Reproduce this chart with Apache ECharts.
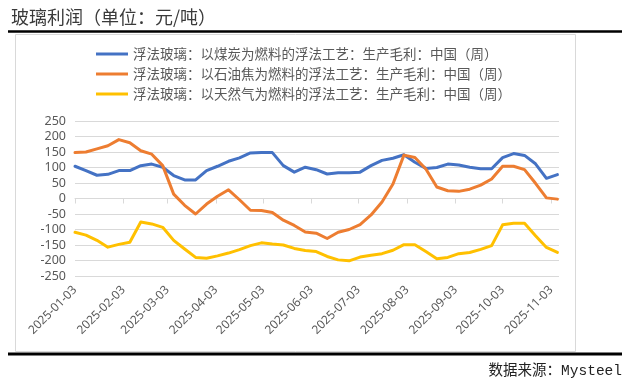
<!DOCTYPE html>
<html>
<head>
<meta charset="utf-8">
<script src="https://cdn.jsdelivr.net/npm/echarts@6/dist/echarts.min.js"></script>
<style>
html,body{margin:0;padding:0;background:#fff;}
#chart{width:630px;height:389px;}
</style>
</head>
<body>
<div id="chart"></div>
<script>
const dates = ['2025-01-03','2025-01-10','2025-01-17','2025-01-24','2025-01-31','2025-02-07','2025-02-14','2025-02-21','2025-02-28','2025-03-07','2025-03-14','2025-03-21','2025-03-28','2025-04-04','2025-04-11','2025-04-18','2025-04-25','2025-05-02','2025-05-09','2025-05-16','2025-05-23','2025-05-30','2025-06-06','2025-06-13','2025-06-20','2025-06-27','2025-07-04','2025-07-11','2025-07-18','2025-07-25','2025-08-01','2025-08-08','2025-08-15','2025-08-22','2025-08-29','2025-09-05','2025-09-12','2025-09-19','2025-09-26','2025-10-03','2025-10-10','2025-10-17','2025-10-24','2025-10-31','2025-11-07'];

const coal = [104,90,75,78,90,90,106,111,101,74,60,60,90,104,120,131,147,148,148,106,85,101,93,79,83,83,85,106,123,130,141,117,97,100,111,108,101,96,96,132,145,139,112,65,77];

const petcoke = [148,150,160,170,190,180,154,143,106,14,-22,-50,-18,7,28,-4,-38,-39,-45,-70,-87,-108,-112,-129,-109,-100,-84,-53,-11,47,140,132,95,37,25,23,30,43,63,104,104,93,49,2,-2];

const gas = [-109,-118,-135,-157,-148,-141,-76,-82,-93,-135,-163,-190,-193,-185,-176,-165,-152,-143,-147,-150,-161,-168,-171,-187,-198,-201,-189,-183,-178,-167,-149,-149,-171,-194,-190,-178,-174,-164,-152,-85,-80,-80,-120,-158,-174];

const seriesNames = ['浮法玻璃：以煤炭为燃料的浮法工艺：生产毛利：中国（周）','浮法玻璃：以石油焦为燃料的浮法工艺：生产毛利：中国（周）','浮法玻璃：以天然气为燃料的浮法工艺：生产毛利：中国（周）'];

const tickDates = ['2025-01-03','2025-02-03','2025-03-03','2025-04-03','2025-05-03','2025-06-03','2025-07-03','2025-08-03','2025-09-03','2025-10-03','2025-11-03'];

const axisStart = '2025-01-03';
const axisEnd = '2025-11-08';

const titleText = '玻璃利润（单位：元/吨）';
const sourceText = '数据来源：Mysteel';
const colors = ['#4472C4','#ED7D31','#FFC000'];

function ts(s){ const p = s.split('-'); return Date.UTC(+p[0], +p[1]-1, +p[2]); }
function dayIdx(s){ return Math.round((ts(s) - ts(axisStart)) / 86400000); }
function pairs(vals){ return dates.map((d,i)=>[dayIdx(d), vals[i]]); }
const tickPos = tickDates.map(dayIdx);

const chart = echarts.init(document.getElementById('chart'), null, {renderer:'canvas'});
const seriesData = [coal, petcoke, gas];
chart.setOption({
  backgroundColor:'#fff',
  animation:false,
  color: colors,
  title:{
    text: titleText, left: 6, top: 3,
    textStyle:{fontSize:18, fontWeight:'normal', color:'#3a3a3a', fontFamily:'"Noto Sans CJK SC", sans-serif'}
  },
  graphic:[
    {type:'rect', shape:{x:15.5, y:34.5, width:560, height:317}, style:{fill:'#fff', stroke:'#d9d9d9', lineWidth:1}, z:-10},
    {type:'line', shape:{x1:8, y1:31.5, x2:622, y2:31.5}, style:{stroke:'#000', lineWidth:2.5}},
    {type:'line', shape:{x1:8, y1:354, x2:622, y2:354}, style:{stroke:'#000', lineWidth:3}},
    {type:'text', right:8, top:364, style:{text: sourceText, fill:'#222', font:'14.5px "Liberation Mono", "Noto Sans CJK SC", monospace'}}
  ],
  legend:{
    orient:'vertical', left:96, top:47, itemGap:6,
    itemWidth:32, itemHeight:3, icon:'rect',
    padding:0,
    textStyle:{fontSize:13.5, color:'#595959', lineHeight:14, fontFamily:'"Noto Sans CJK SC", sans-serif'},
    data: seriesNames
  },
  grid:{left:75, right:71, top:121, bottom:113, containLabel:false},
  xAxis:{
    type:'value',
    min: 0, max: dayIdx(axisEnd),
    axisLine:{show:true, lineStyle:{color:'#d9d9d9', width:1}},
    axisTick:{show:true, length:5, lineStyle:{color:'#d9d9d9'}, customValues: tickPos},
    axisLabel:{rotate:45, margin:12, fontSize:12, color:'#595959', customValues: tickPos,
      formatter: v => { const k = tickPos.indexOf(Math.round(v)); return k >= 0 ? tickDates[k] : ''; },
      fontFamily:'"Noto Sans", sans-serif'},
    splitLine:{show:false}
  },
  yAxis:{
    type:'value', min:-250, max:250, interval:50,
    axisLine:{show:false}, axisTick:{show:false},
    axisLabel:{fontSize:12.5, color:'#595959', margin:9, fontFamily:'"Noto Sans", sans-serif'},
    splitLine:{lineStyle:{color:'#d9d9d9', width:1}}
  },
  series: seriesNames.map((n,i)=>({
    name:n, type:'line', data: pairs(seriesData[i]),
    symbol:'none', smooth:false,
    lineStyle:{width:3, color:colors[i], join:'round', cap:'round'},
    itemStyle:{color:colors[i]}
  }))
});
</script>
</body>
</html>
